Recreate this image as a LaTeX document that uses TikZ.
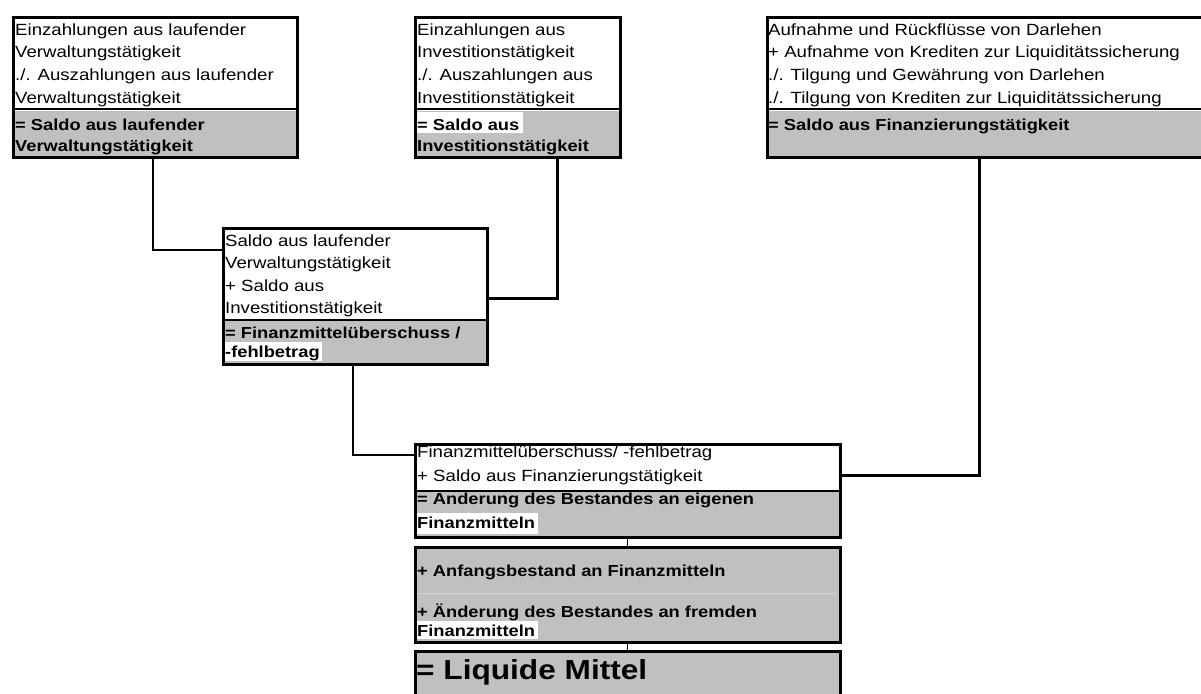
\documentclass[tikz,border=0pt]{standalone}
\usepackage{fontspec}
\setmainfont{Liberation Sans}[FakeStretch=1.15]
\definecolor{silver}{RGB}{192,192,192}
\definecolor{faint}{RGB}{212,212,212}
\begin{document}
\begin{tikzpicture}[x=1pt,y=-1pt,
  frame/.style={draw, line width=3pt, anchor=north west, inner sep=0pt, rectangle},
  txt/.style={anchor=base west, inner sep=0pt, font=\fontsize{16.2}{22}\selectfont},
  btxt/.style={anchor=base west, inner sep=0pt, font=\fontsize{15.9}{22}\selectfont\bfseries},
  bigtxt/.style={anchor=base west, inner sep=0pt, font=\fontsize{27.5}{30}\selectfont\bfseries},
  sep/.style={line width=1.5pt},
  link/.style={line width=2.2pt},
  thicklink/.style={line width=3pt},
  thinlink/.style={line width=1pt}]
\useasboundingbox[fill=white] (0,0) rectangle (1201,693);

% ---------- grey result areas ----------
\fill[silver] (12,111) rectangle (296,156);
\fill[silver] (414,111) rectangle (619,156);
\fill[silver] (766,111) rectangle (1203,156);
\fill[silver] (222,321) rectangle (486,363);
\fill[silver] (414,492) rectangle (839,536);
\fill[silver] (414,546) rectangle (839,641);
\fill[silver] (414,650) rectangle (839,700);

% ---------- white highlights ----------
\fill[white] (416,112) rectangle (523,133);
\fill[white] (224,342) rectangle (322,361);
\fill[white] (416,513) rectangle (538,534);
\fill[white] (416,621) rectangle (538,639);

% ---------- separators ----------
\draw[sep] (12,109) -- (296,109);
\draw[sep] (414,109) -- (619,109);
\draw[sep] (766,109) -- (1203,109);
\draw[sep] (222,320) -- (486,320);
\draw[line width=2pt] (414,491) -- (839,491);
\draw[faint, line width=0.8pt] (416,593) -- (837,593);

% ---------- frames ----------
\node[frame, minimum width=284pt, minimum height=140pt] (b1) at (12,16) {};
\node[frame, minimum width=205pt, minimum height=140pt] (b2) at (414,16) {};
\node[frame, minimum width=440pt, minimum height=140pt] (b3) at (766,16) {};
\node[frame, minimum width=264pt, minimum height=136pt] (b4) at (222,227) {};
\node[frame, minimum width=425pt, minimum height=93pt] (b5) at (414,443) {};
\node[frame, minimum width=425pt, minimum height=95pt] (b6) at (414,546) {};
\node[frame, minimum width=425pt, minimum height=60pt] (b7) at (414,650) {};

% ---------- box 1 text ----------
\node[txt] (t1a) at (15,36) {Einzahlungen aus laufender};
\node[txt] (t1b) at (15,58) {Verwaltungstätigkeit};
\node[txt] (t1c) at (15,81) {./. Auszahlungen aus laufender};
\node[txt] (t1d) at (15,103) {Verwaltungstätigkeit};
\node[btxt] (t1e) at (15,130) {= Saldo aus laufender};
\node[btxt] (t1f) at (15,151) {Verwaltungstätigkeit};

% ---------- box 2 text ----------
\node[txt] (t2a) at (417,36) {Einzahlungen aus};
\node[txt] (t2b) at (417,58) {Investitionstätigkeit};
\node[txt] (t2c) at (417,81) {./. Auszahlungen aus};
\node[txt] (t2d) at (417,103) {Investitionstätigkeit};
\node[btxt] (t2e) at (417,130) {= Saldo aus};
\node[btxt] (t2f) at (417,151) {Investitionstätigkeit};

% ---------- box 3 text ----------
\node[txt] (t3a) at (768,36) {Aufnahme und Rückflüsse von Darlehen};
\node[txt] (t3b) at (768,58) {+ Aufnahme von Krediten zur Liquiditätssicherung};
\node[txt] (t3c) at (768,81) {./. Tilgung und Gewährung von Darlehen};
\node[txt] (t3d) at (768,103) {./. Tilgung von Krediten zur Liquiditätssicherung};
\node[btxt] (t3e) at (768,130) {= Saldo aus Finanzierungstätigkeit};

% ---------- box 4 text ----------
\node[txt] (t4a) at (225,246) {Saldo aus laufender};
\node[txt] (t4b) at (225,268) {Verwaltungstätigkeit};
\node[txt] (t4c) at (225,291) {+ Saldo aus};
\node[txt] (t4d) at (225,313) {Investitionstätigkeit};
\node[btxt] (t4e) at (225,338) {= Finanzmittelüberschuss /};
\node[btxt] (t4f) at (225,357) {-fehlbetrag};

% ---------- box 5 text ----------
\node[txt] (t5a) at (417,457) {Finanzmittelüberschuss/ -fehlbetrag};
\node[txt] (t5b) at (417,481) {+ Saldo aus Finanzierungstätigkeit};
\node[btxt] (t5c) at (417,504) {= Anderung des Bestandes an eigenen};
\node[btxt] (t5d) at (417,528) {Finanzmitteln};

% ---------- box 6 text ----------
\node[btxt] (t6a) at (417,576) {+ Anfangsbestand an Finanzmitteln};
\node[btxt] (t6b) at (417,617) {+ Änderung des Bestandes an fremden};
\node[btxt] (t6c) at (417,636) {Finanzmitteln};

% ---------- box 7 text ----------
\node[bigtxt] (t7a) at (416,679) {= Liquide Mittel};

% ---------- connectors ----------
\coordinate (k1) at (153,250);
\coordinate (k2) at (557,298);
\coordinate (k3) at (353,455);
\coordinate (k4) at (979,475);
\coordinate (k5) at (627,500);

\draw[link] (k1 |- b1.south) -- (k1) -- (b4.west |- k1);
\draw[thicklink] (k2 |- b2.south) -- (k2) -- (b4.east |- k2);
\draw[link] (k3 |- b4.south) -- (k3) -- (b5.west |- k3);
\draw[thicklink] (k4 |- b3.south) -- (k4) -- (b5.east |- k4);
\draw[thinlink] (k5 |- b5.south) -- (k5 |- b6.north);
\draw[thinlink] (k5 |- b6.south) -- (k5 |- b7.north);
\end{tikzpicture}
\end{document}
